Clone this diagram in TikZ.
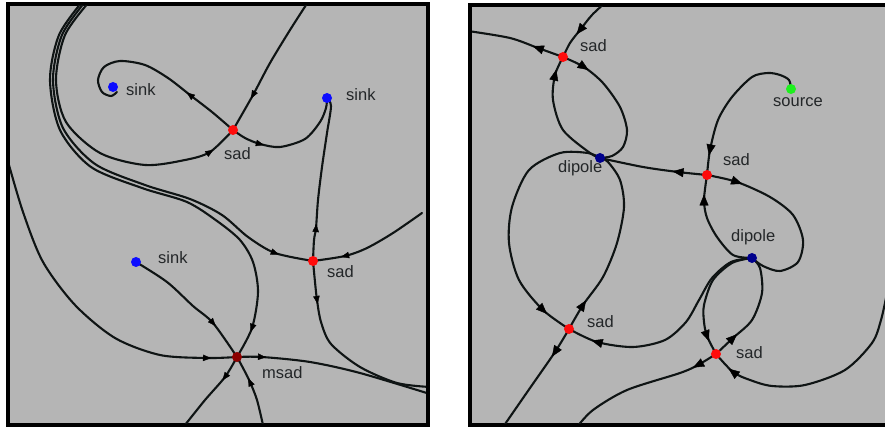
\documentclass[tikz,border=0pt]{standalone}
\usepackage{fontspec}
\setmainfont{Liberation Sans}
\usetikzlibrary{calc,decorations.markings,arrows.meta}
\definecolor{bg}{RGB}{181,181,181}
\definecolor{lc}{RGB}{15,20,20}
\definecolor{tc}{RGB}{35,38,40}
\definecolor{sadred}{RGB}{255,12,12}
\definecolor{sinkblue}{RGB}{12,12,255}
\definecolor{msadred}{RGB}{140,0,0}
\definecolor{dipblue}{RGB}{0,0,140}
\definecolor{srcgreen}{RGB}{30,240,30}
% arrow at #1, tangent from #2 towards #3
\newcommand\tipL[3]{\path[decorate,decoration={markings,mark=at position 0.5 with {\pgftransformxshift{4pt}\arrow{Triangle[length=8pt,width=6.5pt]}}}] ($(#1)+0.05*(#2)-0.05*(#3)$) -- ($(#1)-0.05*(#2)+0.05*(#3)$);}
\newcommand\tipR[3]{\path[decorate,decoration={markings,mark=at position 0.5 with {\pgftransformxshift{5.5pt}\arrow{Triangle[length=11pt,width=9pt]}}}] ($(#1)+0.05*(#2)-0.05*(#3)$) -- ($(#1)-0.05*(#2)+0.05*(#3)$);}
\begin{document}
\begin{tikzpicture}[x=1pt,y=-1pt,
  flow/.style={draw=lc, line width=2.1pt, line cap=round},
  lbl/.style={font=\fontsize{16.5}{19}\selectfont, text=tc, inner sep=0pt, anchor=base west},
  crit/.style={circle, inner sep=0pt, minimum size=10pt},
  panel/.style={draw=black, line width=4pt, fill=bg}]
\useasboundingbox (0,0) rectangle (885,427);
\fill[white] (0,0) rectangle (885,427);
\draw[panel] (8,4) rectangle (428,425);
\draw[panel] (470,5) rectangle (889,425);

% ---------- left panel positions
\coordinate (sink1) at (113,87);
\coordinate (sad1) at (233,130);
\coordinate (sink2) at (327,98);
\coordinate (sad2) at (313,261);
\coordinate (sink3) at (136,262);
\coordinate (msad) at (237,357);
\coordinate (eA) at (89,2);
\coordinate (eB) at (85,2);
\coordinate (eC) at (82,2);
\coordinate (eTop) at (308,2);
\coordinate (eR1) at (422,213);
\coordinate (eR2) at (430,387);
\coordinate (eR3) at (430,394);
\coordinate (eL) at (7,158);
\coordinate (eBot1) at (185,425);
\coordinate (eBot2) at (263,425);

\begin{scope}
\clip (10,6) rectangle (426,423);
\draw[flow] plot[smooth] coordinates {(sad1) (212,112) (190,95) (168,78) (145,65) (120,61) (104,67) (98,80) (102,92) (111,96) (117,92)};
\draw[flow] plot[smooth] coordinates {(eTop) (290,30) (270,63) (253,95) (sad1)};
\draw[flow] plot[smooth] coordinates {(sad1) (245,138) (260,144) (280,147) (305,139) (320,122) (326,108) (sink2)};
\draw[flow] plot[smooth] coordinates {(eA) (65,35) (56,80) (66,122) (100,153) (145,165) (185,160) (210,152) (sad1)};
\draw[flow] plot[smooth] coordinates {(eB) (62,35) (53,80) (63,128) (95,164) (145,185) (190,199) (222,215) (248,237) (275,253) (sad2)};
\draw[flow] plot[smooth] coordinates {(eC) (59,35) (50,80) (60,130) (91,167) (142,188) (187,202) (217,221) (240,240) (253,262) (258,292) (252,328) (msad)};
\draw[flow] plot[smooth] coordinates {(eR1) (393,233) (367,248) (345,256) (sad2)};
\draw[flow] plot[smooth] coordinates {(sad2) (314,240) (316,228) (318,200) (322,167) (327,133) (331,106) (sink2)};
\draw[flow] plot[smooth] coordinates {(sad2) (315,282) (317,300) (321,322) (331,344) (360,367) (397,383) (eR2)};
\draw[flow] plot[smooth] coordinates {(eL) (23,212) (43,262) (75,305) (115,338) (160,355) (207,358) (msad)};
\draw[flow] plot[smooth] coordinates {(msad) (262,357) (310,362) (360,373) (eR3)};
\draw[flow] plot[smooth] coordinates {(sink3) (167,282) (193,306) (213,323) (msad)};
\draw[flow] plot[smooth] coordinates {(msad) (225,377) (205,400) (eBot1)};
\draw[flow] plot[smooth] coordinates {(eBot2) (257,400) (250,382) (243,368) (msad)};
\end{scope}
\tipL{190,95}{212,112}{168,78}
\tipL{253,95}{270,63}{sad1}
\tipL{260,144}{245,138}{280,147}
\tipL{210,152}{185,160}{sad1}
\tipL{275,253}{248,237}{sad2}
\tipL{252,328}{258,292}{msad}
\tipL{345,256}{367,248}{sad2}
\tipL{316,228}{314,240}{318,200}
\tipL{317,300}{315,282}{321,322}
\tipL{207,358}{160,355}{msad}
\tipL{262,357}{msad}{310,362}
\tipL{213,323}{193,306}{msad}
\tipL{225,377}{msad}{205,400}
\tipL{250,382}{257,400}{243,368}

\node[crit, fill=sinkblue] (nsink1) at (sink1) {};
\node[crit, fill=sadred] (nsad1) at (sad1) {};
\node[crit, fill=sinkblue] (nsink2) at (sink2) {};
\node[crit, fill=sadred] (nsad2) at (sad2) {};
\node[crit, fill=sinkblue] (nsink3) at (sink3) {};
\node[crit, fill=msadred] (nmsad) at (msad) {};
\node[lbl] (lsink1) at (126,96) {sink};
\node[lbl] (lsink2) at (346,101) {sink};
\node[lbl] (lsad1) at (224,160) {sad};
\node[lbl] (lsad2) at (327,277) {sad};
\node[lbl] (lsink3) at (158,264) {sink};
\node[lbl] (lmsad) at (262,378) {msad};

% ---------- right panel positions
\coordinate (sadA) at (563,57);
\coordinate (dipA) at (600,158);
\coordinate (src) at (791,89);
\coordinate (sadB) at (707,175);
\coordinate (dipB) at (752,258);
\coordinate (sadC) at (569,329);
\coordinate (sadD) at (716,354);
\coordinate (fL) at (468,31);
\coordinate (fTop) at (606,2);
\coordinate (fBot1) at (503,427);
\coordinate (fBot2) at (577,427);
\coordinate (fR) at (887,293);

\begin{scope}
\clip (472,7) rectangle (885,423);
\draw[flow] plot[smooth] coordinates {(sadA) (538,48) (510,38) (fL)};
\draw[flow] plot[smooth] coordinates {(fTop) (592,15) (580,30) (570,43) (sadA)};
\draw[flow] plot[smooth] coordinates {(sadA) (584,67) (603,83) (620,107) (627,130) (623,147) (612,156) (dipA)};
\draw[flow] plot[smooth] coordinates {(dipA) (590,153) (563,130) (553,100) (555,75) (sadA)};
\draw[flow] plot[smooth] coordinates {(dipA) (643,167) (678,172) (sadB)};
\draw[flow] plot[smooth] coordinates {(src) (789,80) (780,75) (768,73) (752,77) (732,97) (718,120) (710,150) (sadB)};
\draw[flow] plot[smooth] coordinates {(sadB) (737,182) (770,197) (793,215) (803,240) (798,262) (780,271) (763,266) (dipB)};
\draw[flow] plot[smooth] coordinates {(dipB) (733,255) (717,237) (707,218) (704,200) (sadB)};
\draw[flow] plot[smooth] coordinates {(dipA) (588,153) (560,153) (529,170) (512,207) (509,243) (519,280) (543,310) (sadC)};
\draw[flow] plot[smooth] coordinates {(sadC) (583,305) (603,277) (617,243) (624,207) (620,180) (608,162) (dipA)};
\draw[flow] plot[smooth] coordinates {(sadC) (555,352) (530,388) (fBot1)};
\draw[flow] plot[smooth] coordinates {(dipB) (731,262) (712,278) (699,300) (686,322) (665,340) (633,347) (597,342) (sadC)};
\draw[flow] plot[smooth] coordinates {(dipB) (732,263) (713,280) (704,305) (704,322) (707,336) (sadD)};
\draw[flow] plot[smooth] coordinates {(dipB) (760,268) (762,293) (752,320) (733,338) (sadD)};
\draw[flow] plot[smooth] coordinates {(sadD) (698,365) (680,373) (627,390) (593,410) (fBot2)};
\draw[flow] plot[smooth] coordinates {(fR) (881,320) (872,343) (845,370) (805,385) (772,386) (750,380) (733,372) (sadD)};
\end{scope}
\tipR{538,48}{sadA}{510,38}
\tipR{580,30}{592,15}{570,43}
\tipR{584,67}{sadA}{603,83}
\tipR{555,75}{553,100}{sadA}
\tipR{678,172}{sadB}{643,167}
\tipR{710,150}{718,120}{sadB}
\tipR{737,182}{sadB}{770,197}
\tipR{704,200}{707,218}{sadB}
\tipR{543,310}{519,280}{sadC}
\tipR{583,305}{sadC}{603,277}
\tipR{555,352}{sadC}{530,388}
\tipR{597,342}{633,347}{sadC}
\tipR{707,336}{704,322}{sadD}
\tipR{733,338}{sadD}{752,320}
\tipR{698,365}{sadD}{680,373}
\tipR{733,372}{750,380}{sadD}

\node[crit, fill=sadred] (nsadA) at (sadA) {};
\node[crit, fill=dipblue] (ndipA) at (dipA) {};
\node[crit, fill=srcgreen] (nsrc) at (src) {};
\node[crit, fill=sadred] (nsadB) at (sadB) {};
\node[crit, fill=dipblue] (ndipB) at (dipB) {};
\node[crit, fill=sadred] (nsadC) at (sadC) {};
\node[crit, fill=sadred] (nsadD) at (sadD) {};
\node[lbl] (lsadA) at (580,52) {sad};
\node[lbl] (ldipA) at (558,173) {dipole};
\node[lbl] (lsrc) at (773,107) {source};
\node[lbl] (lsadB) at (723,166) {sad};
\node[lbl] (ldipB) at (731,242) {dipole};
\node[lbl] (lsadC) at (587,327) {sad};
\node[lbl] (lsadD) at (736,358) {sad};
\end{tikzpicture}
\end{document}
